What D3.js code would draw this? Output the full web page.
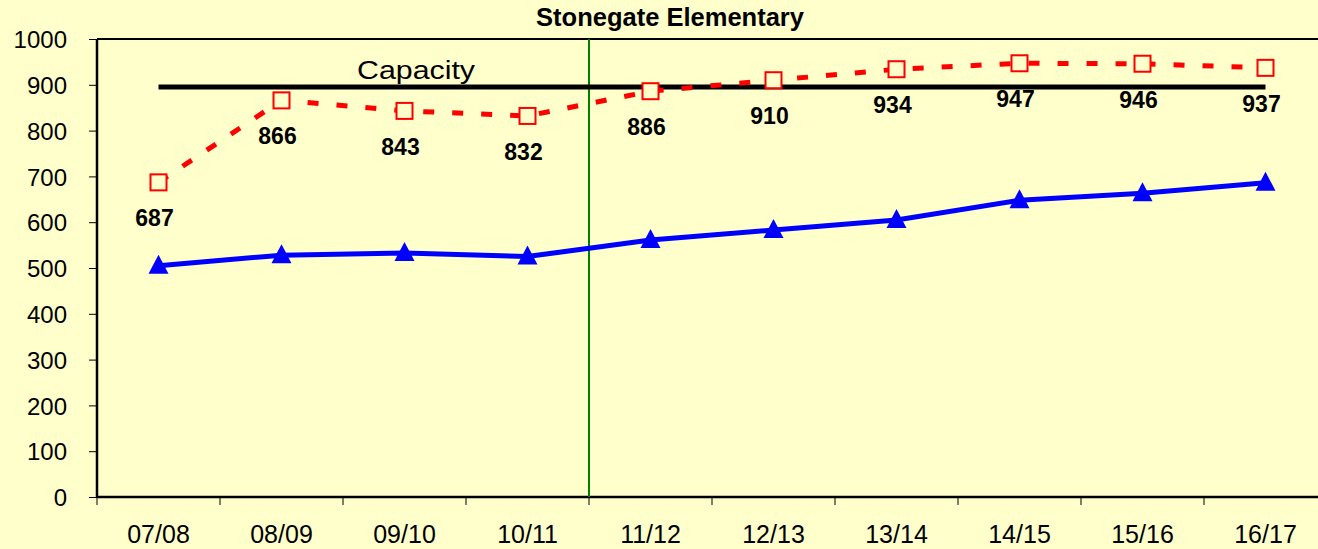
<!DOCTYPE html>
<html>
<head>
<meta charset="UTF-8">
<script src="https://cdnjs.cloudflare.com/ajax/libs/d3/7.8.5/d3.min.js"></script>
<style>
  body { margin: 0; background: #FFFFCC; }
  svg { display: block; font-family: "Liberation Sans", Arial, sans-serif; }
</style>
</head>
<body>
<svg width="1318" height="549"></svg>
<script>
// chart data
const years = ["07/08", "08/09", "09/10", "10/11", "11/12", "12/13", "13/14", "14/15", "15/16", "16/17"];
const projected = [687, 866, 843, 832, 886, 910, 934, 947, 946, 937];
const enrolled = [505, 528, 533, 525, 561, 583, 605, 648, 663, 686];
const capacity = 895;
const yTicks = [0, 100, 200, 300, 400, 500, 600, 700, 800, 900, 1000];
const title = "Stonegate Elementary";

const svg = d3.select("svg");
const bg = "#FFFFCC";
const font = "'Liberation Sans', Arial, sans-serif";

const plotL = 97, plotT = 39, plotB = 497, plotR = 1327;

const x = d3.scaleBand().domain(years).range([plotL, plotR]).paddingInner(0).paddingOuter(0);
const y = d3.scaleLinear().domain([0, 1000]).range([plotB, plotT]);
const cx = d => x(d) + x.bandwidth() / 2;

svg.append("rect").attr("width", 1318).attr("height", 549).attr("fill", bg);

// title
svg.append("text")
  .attr("x", 670).attr("y", 26)
  .attr("text-anchor", "middle")
  .attr("font-weight", "bold")
  .attr("font-size", 25.5)
  .text(title);

// top border of plot area
svg.append("line")
  .attr("x1", plotL).attr("x2", plotR)
  .attr("y1", plotT).attr("y2", plotT)
  .attr("stroke", "#000").attr("stroke-width", 2);

// y axis
const yAxis = svg.append("g")
  .attr("transform", `translate(${plotL},0)`)
  .call(d3.axisLeft(y).tickValues(yTicks).tickSize(8).tickPadding(22).tickFormat(d3.format("d")));
yAxis.select(".domain").attr("stroke", "#000").attr("stroke-width", 2.5).attr("d", `M0,${plotT}V${plotB}`);
yAxis.selectAll(".tick line").attr("stroke", "#000").attr("stroke-width", 1);
yAxis.selectAll(".tick text").attr("font-size", 24).attr("fill", "#000").attr("dy", "0.36em")
  .attr("font-family", font);

// x axis: ticks on category boundaries
const xAxis = svg.append("g")
  .attr("transform", `translate(0,${plotB})`)
  .call(d3.axisBottom(x).tickSize(0).tickPadding(28));
xAxis.select(".domain").attr("stroke", "#000").attr("stroke-width", 2.5).attr("d", `M${plotL},0H${plotR}`);
xAxis.selectAll(".tick text").attr("font-size", 25).attr("fill", "#000")
  .attr("font-family", font);
xAxis.selectAll(".bound")
  .data(years)
  .enter().append("line")
  .attr("class", "bound")
  .attr("x1", d => x(d)).attr("x2", d => x(d))
  .attr("y1", 0).attr("y2", 8)
  .attr("stroke", "#000").attr("stroke-width", 1);

// green divider between 10/11 and 11/12
svg.append("line")
  .attr("x1", x("11/12")).attr("x2", x("11/12"))
  .attr("y1", plotT).attr("y2", plotB)
  .attr("stroke", "#008000").attr("stroke-width", 2);

// capacity line
svg.append("line")
  .attr("x1", cx(years[0])).attr("x2", cx(years[years.length - 1]))
  .attr("y1", y(capacity)).attr("y2", y(capacity))
  .attr("stroke", "#000").attr("stroke-width", 5);
svg.append("text")
  .attr("x", 357).attr("y", 79)
  .attr("font-size", 26)
  .attr("textLength", 118).attr("lengthAdjust", "spacingAndGlyphs")
  .text("Capacity");

// projected (red dashed with squares)
const line = d3.line().x((d, i) => cx(years[i])).y(d => y(d));
svg.append("path")
  .datum(projected)
  .attr("d", line)
  .attr("fill", "none")
  .attr("stroke", "#FF0000")
  .attr("stroke-width", 5)
  .attr("stroke-dasharray", "11,18");
svg.selectAll(".sq")
  .data(projected)
  .enter().append("rect")
  .attr("class", "sq")
  .attr("x", (d, i) => cx(years[i]) - 8)
  .attr("y", d => y(d) - 8)
  .attr("width", 16).attr("height", 16)
  .attr("fill", bg)
  .attr("stroke", "#FF0000").attr("stroke-width", 2);
svg.selectAll(".lbl")
  .data(projected)
  .enter().append("text")
  .attr("class", "lbl")
  .attr("x", (d, i) => cx(years[i]) - 4)
  .attr("y", d => y(d) + 44)
  .attr("text-anchor", "middle")
  .attr("font-weight", "bold")
  .attr("font-size", 23)
  .text(d => d);

// enrolled (blue with triangles)
svg.append("path")
  .datum(enrolled)
  .attr("d", line)
  .attr("fill", "none")
  .attr("stroke", "#0000FF")
  .attr("stroke-width", 5);
svg.selectAll(".tri")
  .data(enrolled)
  .enter().append("path")
  .attr("class", "tri")
  .attr("transform", (d, i) => `translate(${cx(years[i])},${y(d)})`)
  .attr("d", "M0,-11L10,8L-10,8Z")
  .attr("fill", "#0000FF");
</script>
</body>
</html>
